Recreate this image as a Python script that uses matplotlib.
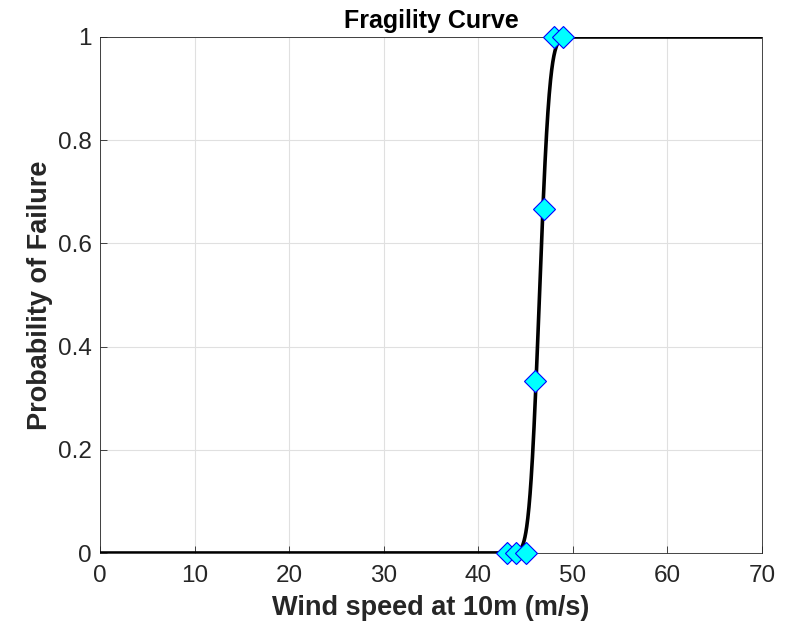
import math
import numpy as np
import matplotlib
matplotlib.use("Agg")
from matplotlib import pyplot as plt

plt.rcParams['font.family'] = ['Liberation Sans', 'DejaVu Sans']

# Observed failure fractions
wind_obs = [43, 44, 45, 46, 47, 48, 49]
pf_obs = [0, 0, 0, 1/3, 2/3, 1, 1]

# Fitted lognormal fragility parameters (median, dispersion)
median = 46.47
beta = 0.018

x_ticks = [0, 10, 20, 30, 40, 50, 60, 70]
y_ticks = [0, 0.2, 0.4, 0.6, 0.8, 1]
y_labels = ['0', '0.2', '0.4', '0.6', '0.8', '1']

# Fitted curve
ws = np.linspace(0.01, 70, 3000)
pf = np.array([0.5 * (1 + math.erf(math.log(w / median) / (beta * math.sqrt(2)))) for w in ws])

fig = plt.figure(figsize=(7.98, 6.28), dpi=100)
ax = fig.add_axes([0.1253, 0.1194, 0.8296, 0.8217])

ax.plot(ws, pf, color='black', lw=2.6, zorder=3)
ax.plot(wind_obs, pf_obs, linestyle='none', marker='D', ms=11,
        markerfacecolor='cyan', markeredgecolor='blue', markeredgewidth=0.8,
        zorder=4, clip_on=False)

ax.set_xlim(0, 70)
ax.set_ylim(0, 1)
ax.set_xticks(x_ticks)
ax.set_yticks(y_ticks)
ax.set_yticklabels(y_labels)
ax.tick_params(direction='in', labelsize=17.5, colors='#262626', length=5, width=0.6)
ax.tick_params(axis='x', pad=8.5)
ax.tick_params(axis='y', pad=6)
ax.grid(True, color='#e0e0e0', lw=0.8)
ax.set_axisbelow(True)
for s in ax.spines.values():
    s.set_color('#262626')
    s.set_linewidth(0.6)

ax.set_xlabel('Wind speed at 10m (m/s)', fontsize=19.5, fontweight='bold',
              color='#262626', labelpad=6)
ax.set_ylabel('Probability of Failure', fontsize=19.5, fontweight='bold',
              color='#262626', labelpad=3.5)
ax.set_title('Fragility Curve', fontsize=18, fontweight='bold', pad=6.5)

fig.savefig('out.png', dpi=100)
